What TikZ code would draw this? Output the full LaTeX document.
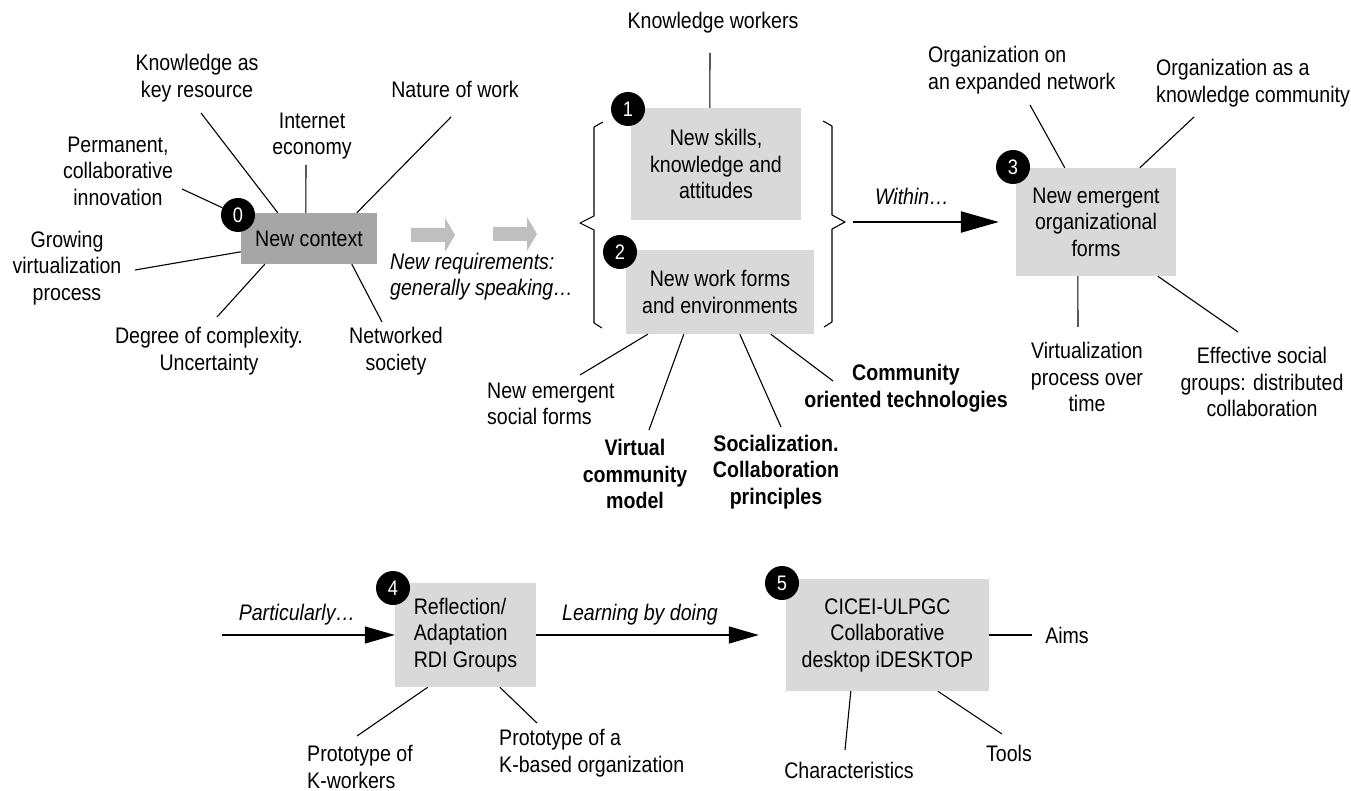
\documentclass[tikz,border=0pt]{standalone}
\usepackage{fontspec}
\setmainfont{Liberation Sans}[FakeStretch=0.87]
\usetikzlibrary{arrows.meta,calc}

\definecolor{boxgray}{HTML}{D9D9D9}
\definecolor{ctxgray}{HTML}{A6A6A6}
\definecolor{blockgray}{HTML}{BFBFBF}

\newcommand\basefont{\fontsize{22.5pt}{26.5pt}\selectfont}

\tikzset{
  txt/.style={inner sep=0pt, align=center, font=\basefont},
  txtl/.style={txt, align=left, anchor=west},
  itxt/.style={txt, font=\basefont\itshape},
  btxt/.style={txt, font=\basefont\bfseries},
  box/.style={fill=boxgray, inner sep=0pt, align=center, font=\basefont},
  ctxbox/.style={box, fill=ctxgray},
  num/.style={circle, fill=black, text=white, inner sep=0pt,
              minimum size=34pt, font=\fontsize{21pt}{21pt}\selectfont},
  link/.style={line width=1.1pt},
  arr/.style={line width=1.3pt, -{Triangle[length=30pt,width=17pt]}},
  bigarr/.style={line width=2.2pt, -{Triangle[length=38pt,width=21pt]}},
  brace/.style={line width=1.1pt, line join=round}
}

\begin{document}
\begin{tikzpicture}[x=1pt,y=-1pt]
\useasboundingbox (0,0) rectangle (1351,791);

% ---------- main boxes ----------
\node[ctxbox, minimum width=136pt, minimum height=51pt] (ctx) at (309,238.5) {New context};
\node[box, minimum width=170pt, minimum height=112pt] (b1) at (716,164) {New skills,\\knowledge and\\attitudes};
\node[box, minimum width=188pt, minimum height=84pt] (b2) at (720,292) {New work forms\\and environments};
\node[box, minimum width=160pt, minimum height=108pt] (b3) at (1096,222) {New emergent\\organizational\\forms};
\node[box, minimum width=141pt, minimum height=104pt, align=left] (b4) at (465.5,635) {Reflection/\\Adaptation\\RDI Groups};
\node[box, minimum width=203pt, minimum height=112pt] (b5) at (887.5,635) {CICEI-ULPGC\\Collaborative\\desktop iDESKTOP};

% ---------- step numbers ----------
\node[num] (n0) at (238,215) {0};
\node[num] (n1) at (628,109) {1};
\node[num] (n2) at (620,252) {2};
\node[num] (n3) at (1013,167) {3};
\node[num] (n4) at (393,588) {4};
\node[num] (n5) at (782,583) {5};

% ---------- context factors ----------
\node[txt] (kar) at (197,78) {Knowledge as\\key resource};
\node[txt] (ie)  at (312,136) {Internet\\economy};
\node[txt] (pci) at (118,171) {Permanent,\\collaborative\\innovation};
\node[txt] (gvp) at (67,268) {Growing\\virtualization\\process};
\node[txt] (doc) at (209,351) {Degree of complexity.\\Uncertainty};
\node[txt] (ns)  at (396,351) {Networked\\society};
\node[txt] (now) at (455,89) {Nature of work};

\coordinate (pci-e) at (182,189);
\coordinate (kar-e) at (201,113);
\coordinate (ie-e)  at (306,165);
\coordinate (now-e) at (451,117);
\coordinate (gvp-e) at (135,270);
\coordinate (doc-e) at (217,317);
\coordinate (ns-e)  at (382,322);

\draw[link] (pci-e) -- (n0);
\draw[link] (kar-e) -- ($(ctx.north west)+(37,0)$);
\draw[link] (ie-e)  -- ($(ctx.north west)+(65,0)$);
\draw[link] (now-e) -- ($(ctx.north west)+(116,0)$);
\draw[link] (gvp-e) -- ($(ctx.north west)+(0,39)$);
\draw[link] (doc-e) -- ($(ctx.south west)+(24,0)$);
\draw[link] (ns-e)  -- ($(ctx.south west)+(111,0)$);

% ---------- transition ----------
\fill[blockgray] (411,228) -- (445,228) -- (445,218) -- (455,235) -- (445,252) -- (445,242) -- (411,242) -- cycle;
\fill[blockgray] (493,227) -- (527,227) -- (527,217) -- (537,234) -- (527,251) -- (527,241) -- (493,241) -- cycle;
\node[itxt, align=left, anchor=west] (req) at (390,276.5) {New requirements:\\generally speaking…};

% ---------- requirements ----------
\node[txt] (kw) at (713,23) {Knowledge workers};
\coordinate (kw-e) at (710,53);
\draw[link] (kw-e) -- ($(b1.north west)+(79,0)$);

\draw[brace] (603,122) -- (594,127) -- (594,216) -- (580,223) -- (594,230) -- (594,323) -- (602,328);
\draw[brace] (823,121) -- (832,126) -- (832,215) -- (845,222) -- (832,229) -- (832,322) -- (824,327);
\coordinate (brtip) at (845,222);

\node[txtl] (nesf) at (487,404) {New emergent\\social forms};
\node[btxt] (vcm) at (635,474) {Virtual\\community\\model};
\node[btxt] (scp) at (776,472) {Socialization.\\Collaboration\\principles};
\node[btxt] (cot) at (906,388) {Community\\oriented technologies};

\coordinate (nesf-e) at (580,375);
\coordinate (vcm-e)  at (649,430);
\coordinate (scp-e)  at (781,427);
\coordinate (cot-e)  at (833,381);

\draw[link] (nesf-e) -- ($(b2.south west)+(22,0)$);
\draw[link] (vcm-e)  -- ($(b2.south west)+(58,0)$);
\draw[link] (scp-e)  -- ($(b2.south west)+(114,0)$);
\draw[link] (cot-e)  -- ($(b2.south west)+(145,0)$);

% ---------- organizational forms ----------
\draw[bigarr, shorten <=8pt, shorten >=17pt] (brtip) -- (b3.west);
\node[itxt] (within) at (912,196) {Within…};

\node[txtl] (oen) at (928,70) {Organization on\\an expanded network};
\node[txtl] (okc) at (1156,83) {Organization as a\\knowledge community};
\node[txt] (vpt) at (1087,377) {Virtualization\\process over\\time};
\node[txt] (esg) at (1262,382) {Effective social\\groups: distributed\\collaboration};

\coordinate (oen-e) at (1030,105);
\coordinate (okc-e) at (1194,117);
\coordinate (vpt-e) at (1078,327);
\coordinate (esg-e) at (1238,332);

\draw[link] (oen-e) -- ($(b3.north west)+(49,0)$);
\draw[link] (okc-e) -- ($(b3.north west)+(124,0)$);
\draw[link] (vpt-e) -- ($(b3.south west)+(62,0)$);
\draw[link] (esg-e) -- ($(b3.south west)+(142,0)$);

% ---------- bottom row ----------
\coordinate (part-s) at (222,635);
\draw[arr] (part-s) -- (b4.west);
\node[itxt] (part) at (297,615) {Particularly…};

\draw[arr, shorten >=27pt] (b4.east) -- (b5.west);
\node[itxt] (lbd) at (640,615) {Learning by doing};

\node[txtl] (pk)  at (307,767) {Prototype of\\K-workers};
\node[txtl] (pko) at (499,753) {Prototype of a\\K-based organization};
\coordinate (pk-e)  at (357,736);
\coordinate (pko-e) at (537,723);
\draw[link] (pk-e)  -- ($(b4.south west)+(33,0)$);
\draw[link] (pko-e) -- ($(b4.south west)+(105,0)$);

\node[txt] (aims)  at (1067,635) {Aims};
\node[txt] (chars) at (849,770) {Characteristics};
\node[txt] (tools) at (1009,753) {Tools};
\coordinate (aims-e)  at (1032,635);
\coordinate (chars-e) at (845,750);
\coordinate (tools-e) at (1002,734);
\draw[link] (b5.east) -- (aims-e);
\draw[link] (chars-e) -- ($(b5.south west)+(65,0)$);
\draw[link] (tools-e) -- ($(b5.south west)+(152,0)$);

\end{tikzpicture}
\end{document}
